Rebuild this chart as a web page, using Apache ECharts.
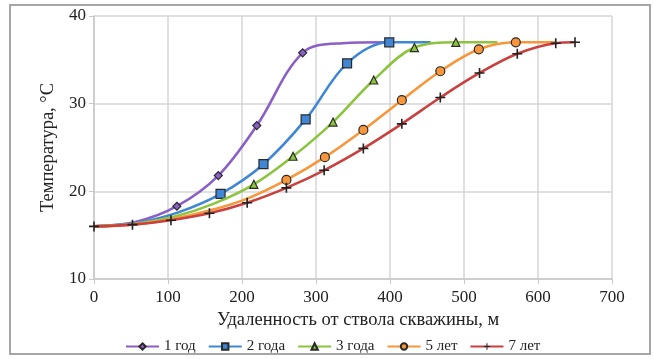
<!DOCTYPE html>
<html><head><meta charset="utf-8">
<script src="https://cdn.jsdelivr.net/npm/echarts@6/dist/echarts.min.js"></script>
<style>html,body{margin:0;padding:0;background:#fff}#c{width:654px;height:359px}</style>
</head><body><div id="c"></div>
<script>
const names = ['1 год','2 года','3 года','5 лет','7 лет'];
const x1 = [0,56,112,168,220,282,336,392];
const y1 = [16,16.5,18.3,21.8,27.5,35.8,36.9,37];
const x2 = [0,57,114,171,229,286,342,399,455];
const y2 = [16,16.4,17.6,19.7,23.1,28.2,34.6,37,37];
const x3 = [0,54,108,162,216,269,323,378,433,489,545];
const y3 = [16,16.3,17.1,18.6,20.8,24.0,27.9,32.7,36.4,37,37];
const x5 = [0,52,104,156,208,260,312,364,416,468,520,570,624];
const y5 = [16,16.2,16.8,17.8,19.2,21.3,23.9,27.0,30.4,33.7,36.2,37,37];
const x7 = [0,52,104,156,207,260,311,364,416,468,521,572,624,650];
const y7 = [16,16.2,16.7,17.5,18.7,20.4,22.4,24.9,27.7,30.7,33.5,35.7,36.9,37];
// index range of points that carry a marker
const marked = [[2,5],[3,7],[4,9],[5,11],[0,13]];
const xTicks = [0,100,200,300,400,500,600,700];
const yTicks = [10,20,30,40];

const colors = ['#8a5fc6','#3f86d4','#8cc43f','#f7963a','#c9403f'];
const fills  = ['#8a5fc6','#3f86d4','#8cc43f','#f7963a','#222'];
const plus = 'path://M4.2,0H5.8V4.2H10V5.8H5.8V10H4.2V5.8H0V4.2H4.2Z';
const symbols = ['diamond','rect','triangle','circle',plus];
const sizes = [8,9,8,9,10];
const xs=[x1,x2,x3,x5,x7], ys=[y1,y2,y3,y5,y7];
const font = '"Liberation Serif","Times New Roman",serif';

const series = names.map((n,i)=>({
  name:n, type:'line', smooth:0.35,
  symbol:symbols[i], symbolSize:sizes[i],
  lineStyle:{color:colors[i],width:2.6},
  itemStyle:{color:fills[i],borderColor:'#2a2a2a',borderWidth: i===4?0:1.2},
  data: xs[i].map((x,k)=>{
    const d={value:[x,ys[i][k]]};
    if(k<marked[i][0]||k>marked[i][1]) d.symbol='none';
    return d;
  }),
  z: 2+i
}));

const chart = echarts.init(document.getElementById('c'));
chart.setOption({
  animation:false,
  textStyle:{fontFamily:font},
  graphic:[{type:'rect',shape:{x:10,y:5,width:640,height:349},style:{fill:'none',stroke:'#a6a6a6',lineWidth:2}}],
  grid:{left:94,right:42,top:16,bottom:80},
  legend:{top:334,left:120,itemWidth:33,itemHeight:8,itemGap:12,
    textStyle:{fontFamily:font,fontSize:15,color:'#222'},data:names},
  xAxis:{type:'value',min:xTicks[0],max:xTicks[xTicks.length-1],interval:100,
    name:'Удаленность от ствола скважины, м',nameLocation:'middle',nameGap:32,
    nameTextStyle:{fontFamily:font,fontSize:18.5,color:'#222',padding:[0,0,0,10]},
    axisLine:{lineStyle:{color:'#c8c8c8',width:1.5}},
    axisTick:{show:true,length:5,lineStyle:{color:'#c8c8c8'}},
    axisLabel:{fontFamily:font,fontSize:17,color:'#222',margin:10},
    splitLine:{lineStyle:{color:'#d6d6d6',width:1.5}}},
  yAxis:{type:'value',min:yTicks[0],max:yTicks[yTicks.length-1],interval:10,
    name:'Температура, °C',nameLocation:'middle',nameGap:34,
    nameTextStyle:{fontFamily:font,fontSize:18.5,color:'#222'},
    axisLine:{show:true,lineStyle:{color:'#c8c8c8',width:1.5}},
    axisTick:{show:true,length:5,lineStyle:{color:'#c8c8c8'}},
    axisLabel:{fontFamily:font,fontSize:17,color:'#222',margin:8},
    splitLine:{lineStyle:{color:'#d6d6d6',width:1.5}}},
  series
});
</script></body></html>
